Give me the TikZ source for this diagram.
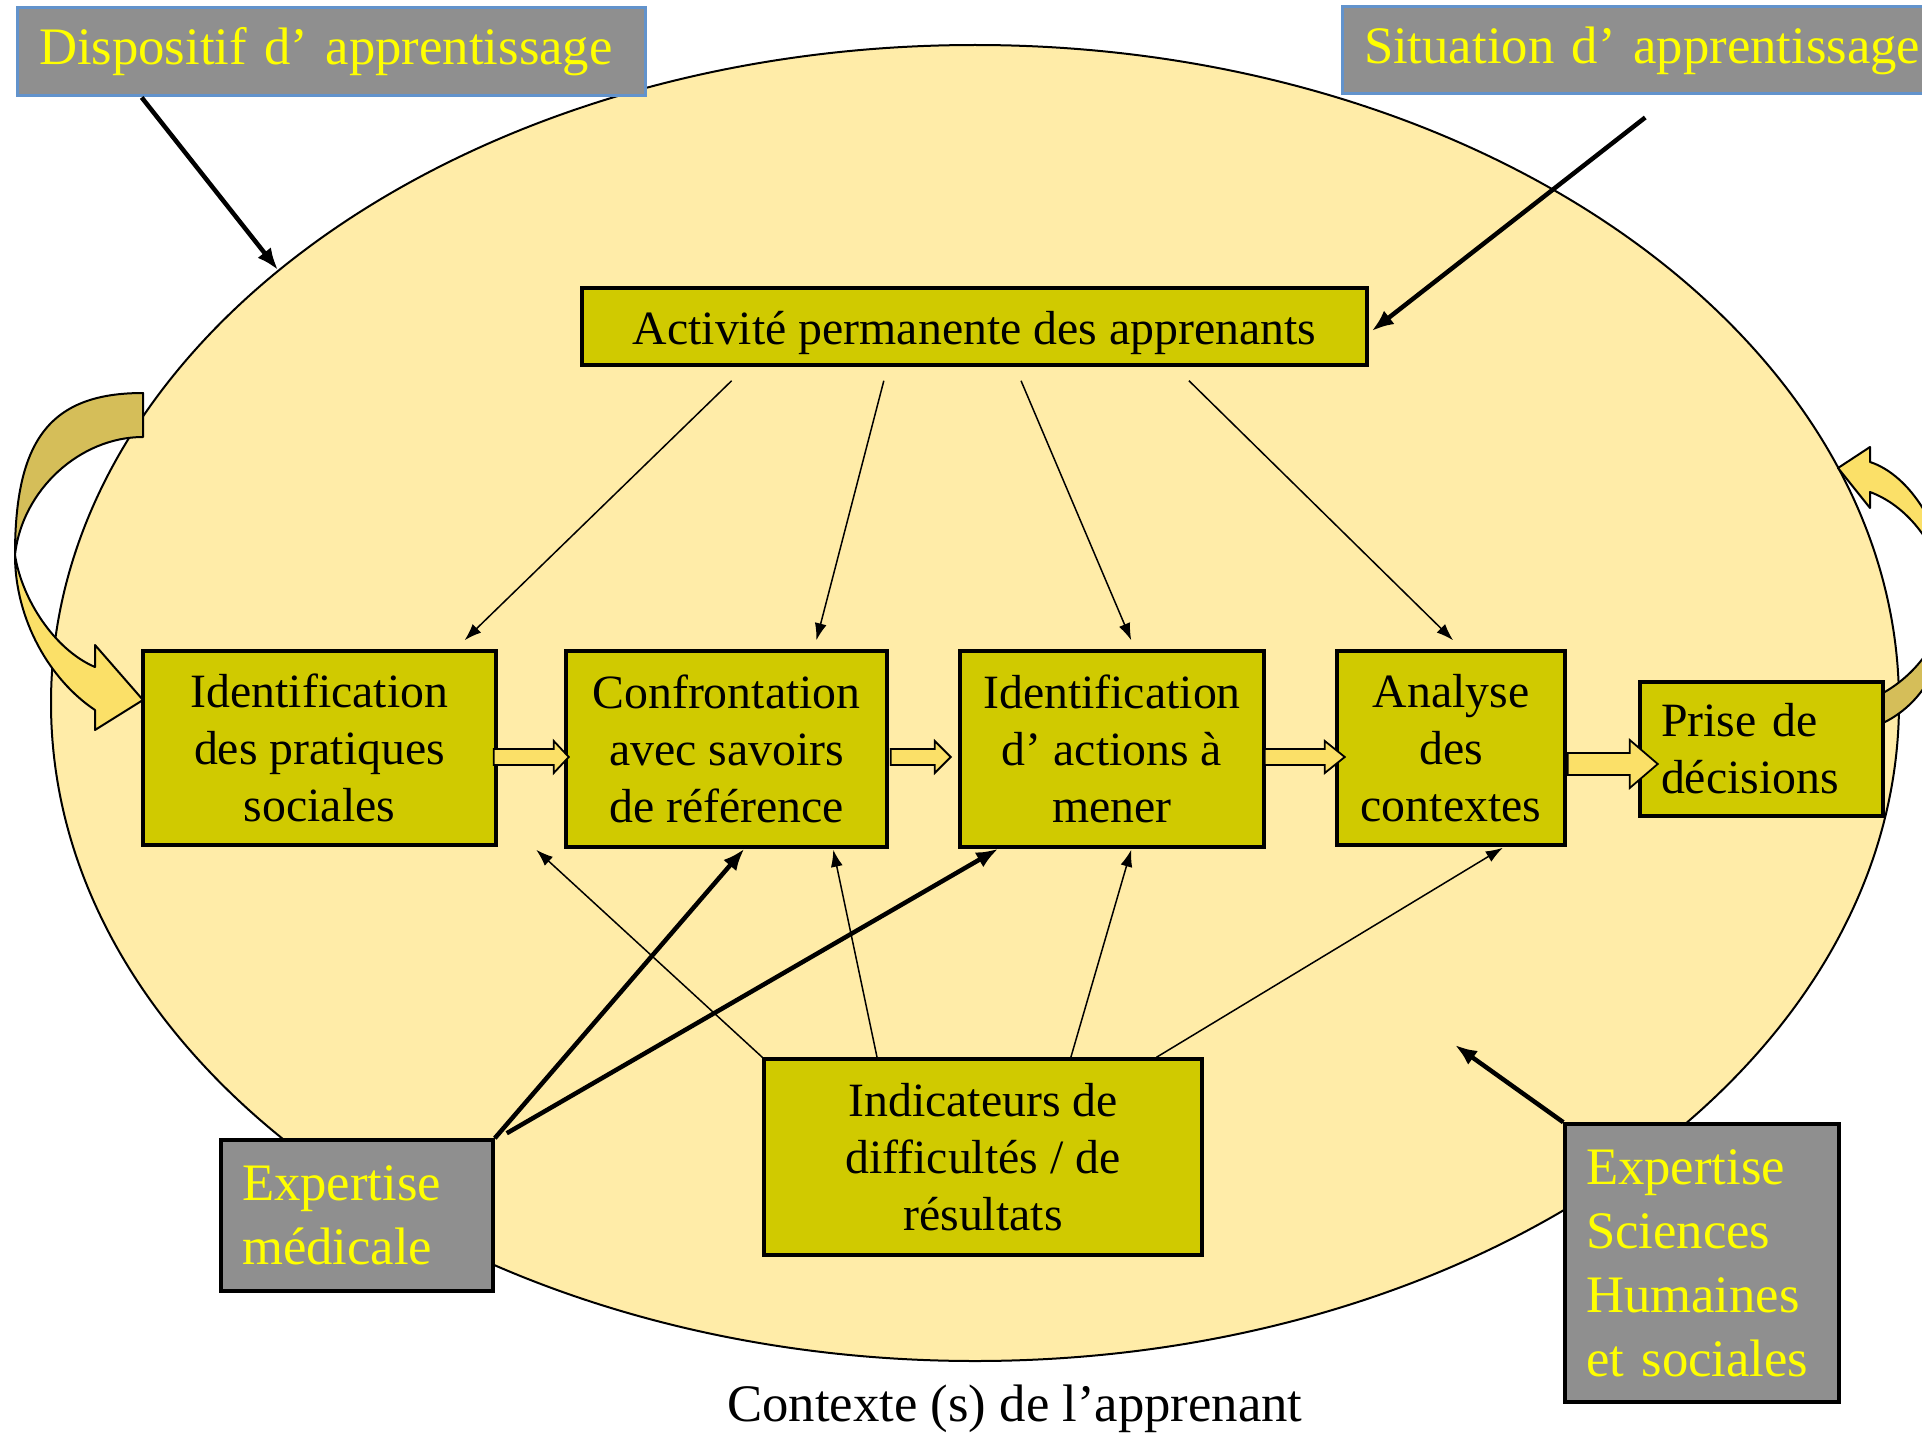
\documentclass[tikz,border=0pt]{standalone}
\usepackage{fontspec}
\setmainfont{Liberation Serif}
\usetikzlibrary{arrows.meta,calc}

\definecolor{fondctx}{RGB}{255,236,168}
\definecolor{boite}{RGB}{208,202,0}
\definecolor{gris}{RGB}{143,143,143}
\definecolor{jaune}{RGB}{255,255,0}
\definecolor{bleu}{RGB}{98,147,204}
\definecolor{jauneclair}{RGB}{251,224,104}
\definecolor{jaunesombre}{RGB}{213,190,89}

\newcommand{\policeboite}{\fontsize{47.8}{57}\selectfont}
\newcommand{\policejaune}{\fontsize{52.7}{64}\selectfont}

\tikzset{
	etape/.style={draw, line width=3.5pt, fill=boite, font=\policeboite, align=center, inner sep=0pt},
	expertise/.style={draw, line width=3.5pt, fill=gris, text=jaune, font=\policejaune, align=left, inner xsep=21pt, inner ysep=0pt},
	cadre/.style={draw=bleu, line width=3pt, fill=gris, text=jaune, font=\policejaune, align=left, inner xsep=22pt, inner ysep=0pt},
	fin/.style={-{Latex[length=17pt,width=12pt]}, line width=1.5pt},
	epais/.style={-{Latex[length=22pt,width=17pt]}, line width=4.5pt},
	bloc/.style={draw, line width=1.8pt, fill=jauneclair, line join=miter},
	courbe/.style={draw, line width=2pt, line join=round}
}

% fleche pleine : depart, longueur, demi-corps, demi-tete, longueur de tete
\newcommand{\flechebloc}[5]{%
	\draw[bloc] (#1) ++(0,#3) -- ++({#2-#5},0) -- ++(0,{#4-#3}) -- ++(#5,{-#4})
		-- ++({-#5},{-#4}) -- ++(0,{#4-#3}) -- ++({#5-#2},0) -- cycle;}

\begin{document}
\begin{tikzpicture}[x=1pt,y=-1pt]
	\useasboundingbox (0,0) rectangle (1922,1434);
	% contexte de l'apprenant
	\draw[line width=2pt, fill=fondctx] (975,703) ellipse [x radius=924pt, y radius=658pt];

	% fleches courbes
	\draw[courbe, fill=jaunesombre] (143,393) .. controls (50,393) and (15,440) .. (15,555)
		.. controls (22,490) and (80,437) .. (143,437) -- cycle;
	\draw[courbe, fill=jauneclair] (15,555) .. controls (15,620) and (50,680) .. (95,710)
		-- (95,730) -- (143,700) -- (95,645) -- (95,667) .. controls (55,650) and (22,600) .. (15,555) -- cycle;
	\draw[courbe, fill=jauneclair] (1870,462) .. controls (1910,475) and (1945,530) .. (1948,590)
		.. controls (1935,540) and (1905,505) .. (1870,492) -- (1870,508) -- (1838,468) -- (1870,447) -- cycle;
	\draw[courbe, fill=jaunesombre] (1948,590) .. controls (1945,640) and (1915,675) .. (1883,693)
		-- (1883,723) .. controls (1930,700) and (1950,650) .. (1948,590) -- cycle;

	% cadres
	\node[cadre, minimum height=88pt, text width=584pt] (dispo) at (331,52) {\mbox{Dispositif d’ apprentissage}};
	\node[cadre, minimum height=87pt, text width=554pt] (situ) at (1641,50.5) {\mbox{Situation d’ apprentissage}};

	% etapes
	\node[etape, minimum width=785pt, minimum height=77pt, text height=45pt, text depth=10pt] (act) at (974.5,326.5) {Activité permanente des apprenants};
	\node[etape, minimum width=353pt, minimum height=194pt] (prat) at (319.5,748) {Identification\\des pratiques\\sociales};
	\node[etape, minimum width=321pt, minimum height=196pt] (conf) at (726.5,749) {Confrontation\\avec savoirs\\de référence};
	\node[etape, minimum width=304pt, minimum height=196pt] (actions) at (1112,749) {Identification\\d’ actions à\\mener};
	\node[etape, minimum width=228pt, minimum height=194pt] (analyse) at (1451,748) {Analyse\\des\\contextes};
	\node[etape, align=left, text width=201pt, inner xsep=21pt, minimum height=134pt] (prise) at (1761.5,749) {Prise de\\décisions};
	\node[etape, minimum width=438pt, minimum height=196pt] (indic) at (983,1157) {Indicateurs de\\difficultés / de\\résultats};

	% expertises
	\node[expertise, text width=230pt, minimum height=151pt] (medic) at (357,1215.5) {Expertise\\médicale};
	\node[expertise, text width=232pt, minimum height=278pt] (shs) at (1702,1263) {Expertise\\Sciences\\Humaines\\et sociales};

	\node[font=\policejaune, anchor=base] (ctx) at (1015,1421) {Contexte (s) de l’apprenant};

	% activite vers les etapes
	\foreach \a/\cible/\b in {.192/prat/.907, .385/conf/.777, .559/actions/.5625, .772/analyse/.509}
		\draw[fin] ($(act.south west)!\a!(act.south east)+(0,14)$) -- ($(\cible.north west)!\b!(\cible.north east)+(0,-9)$);

	% indicateurs vers les etapes
	\draw[fin] (indic.north west) -- ($(conf.south west)+(-28,1)$);
	\foreach \a/\cible/\b in {.26/conf/.829, .699/actions/.5625, .893/analyse/.724}
		\draw[fin] ($(indic.north west)!\a!(indic.north east)$) -- ($(\cible.south west)!\b!(\cible.south east)+(0,1)$);

	% expertise medicale
	\draw[epais] (medic.north east) -- ($(conf.south west)!.555!(conf.south east)$);
	\draw[epais] ($(medic.north east)+(12,-5)$) -- ($(actions.south west)!.13!(actions.south east)$);

	% cadres exterieurs
	\coordinate (dispofin) at (278,270);
	\coordinate (shsfin) at (1455,1045);
	\draw[epais] ($(dispo.south west)!.2!(dispo.south east)$) -- (dispofin);
	\draw[epais] ($(situ.south west)!.507!(situ.south east)+(0,22)$) -- ($(act.east)+(3,4.5)$);
	\draw[epais] (shs.north west) -- (shsfin);

	% fleches pleines entre etapes
	\flechebloc{$(prat.east)+(-4,9)$}{75}{8}{16}{15}
	\flechebloc{$(conf.east)+(2,8)$}{60}{8}{16}{16}
	\flechebloc{$(actions.east)+(-1,8)$}{80}{8}{16}{20}
	\flechebloc{$(analyse.east)+(1,16)$}{90}{11}{24}{28}
\end{tikzpicture}
\end{document}
